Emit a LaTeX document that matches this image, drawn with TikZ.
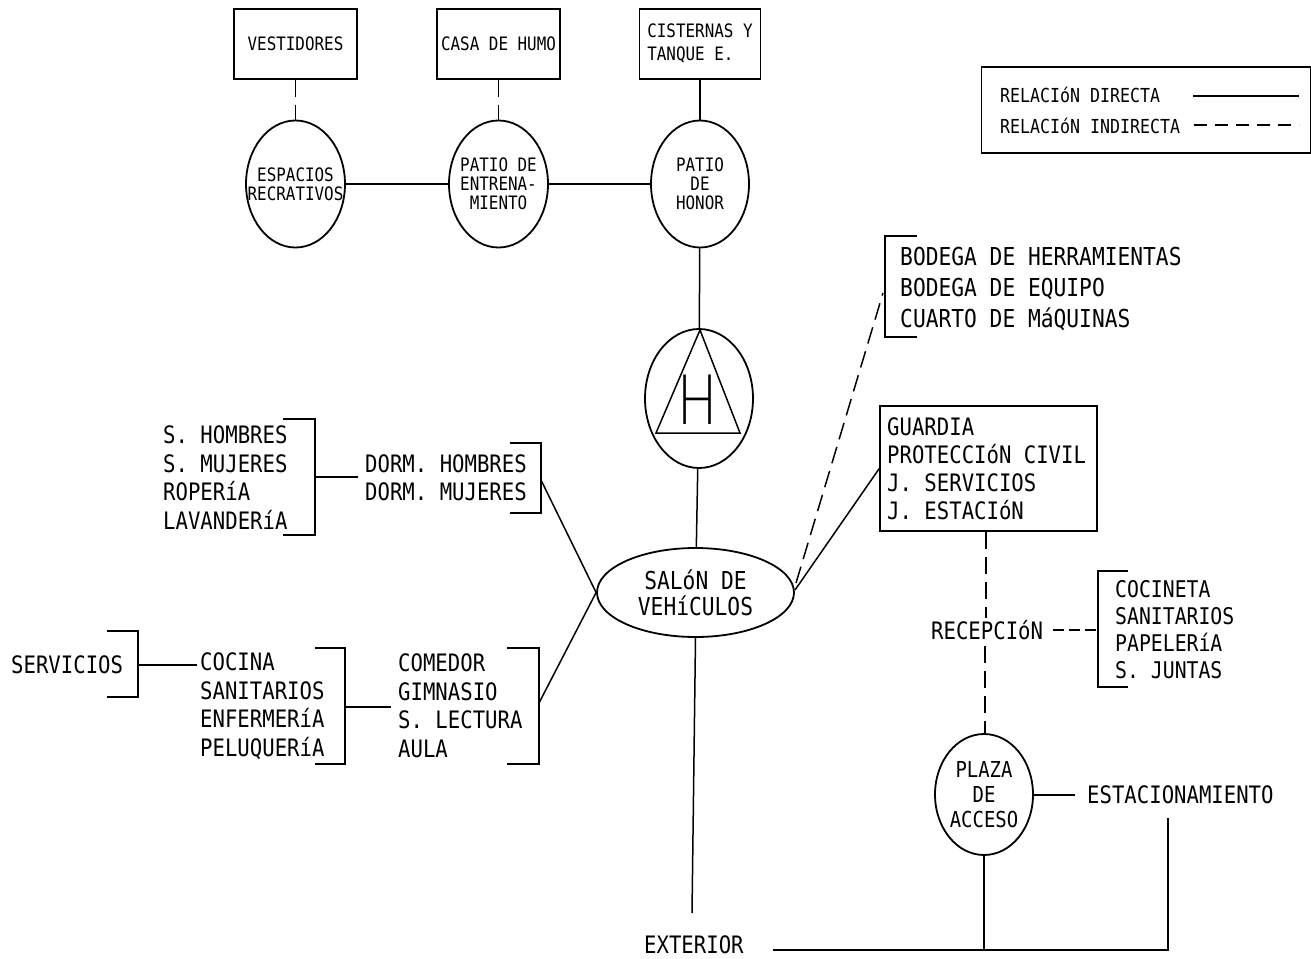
\documentclass[tikz,border=0pt]{standalone}
\usepackage{fontspec}
\usetikzlibrary{positioning,shapes.geometric}
\newfontfamily\plotfont[FakeStretch=0.86]{DejaVu Sans Mono}
\newfontfamily\helifont[FakeStretch=0.72]{Lato Light}
\tikzset{
  direct/.style={line width=1.5pt},
  indirect/.style={line width=1.5pt, dash pattern=on 17pt off 8pt},
  zone/.style={draw, line width=1.8pt, ellipse, inner sep=0pt},
  room/.style={draw, line width=1.5pt, rectangle, inner sep=0pt, align=left},
  smalltext/.style={font=\plotfont\fontsize{18.5}{19}\selectfont, align=center, inner sep=0pt},
  boxtext/.style={font=\plotfont\fontsize{18.5}{23}\selectfont, align=left, inner sep=0pt},
  legendtext/.style={font=\plotfont\fontsize{19.3}{24}\selectfont, anchor=west, inner sep=0pt},
  listtext/.style={font=\plotfont\fontsize{24}{28.5}\selectfont, align=left, anchor=west, inner sep=0pt}
}
\begin{document}
\begin{tikzpicture}[x=1pt, y=-1pt]
\useasboundingbox (0,0) rectangle (1311,958);
% upper row
\node[zone, minimum width=99pt, minimum height=127pt] (espacios) at (295.5,184) {};
\node[zone, minimum width=99pt, minimum height=127pt] (entrena) at (498.5,184) {};
\node[zone, minimum width=98pt, minimum height=127pt] (honor) at (700,184) {};
\node[smalltext] at (espacios) {ESPACIOS\\RECRATIVOS};
\node[smalltext] at (entrena) {PATIO DE\\ENTRENA-\\MIENTO};
\node[smalltext] at (honor) {PATIO\\DE\\HONOR};
\node[room, boxtext, minimum width=123pt, minimum height=70pt, above=40pt of espacios] (vestidores) {VESTIDORES};
\node[room, boxtext, minimum width=123pt, minimum height=70pt, above=40pt of entrena] (humo) {CASA DE HUMO};
\node[room, boxtext, minimum width=121pt, minimum height=70pt, above=40pt of honor] (cisternas) {CISTERNAS Y\\TANQUE E.};
\draw[indirect] (vestidores) -- (espacios);
\draw[indirect] (humo) -- (entrena);
\draw[direct] (cisternas) -- (honor);
\draw[direct] (espacios) -- (entrena);
\draw[direct] (entrena) -- (honor);
% legend
\node[room, minimum width=329pt, minimum height=86pt] (legend) at (1146,110) {};
\node[legendtext] (ldirect) at (1000,95) {RELACIóN DIRECTA};
\node[legendtext] (lindirect) at (1000,126) {RELACIóN INDIRECTA};
\coordinate (ldirectstart) at (1193,96);
\coordinate (ldirectend) at (1299,96);
\coordinate (lindirectstart) at (1194,125);
\coordinate (lindirectend) at (1299,125);
\draw[direct] (ldirectstart) -- (ldirectend);
\draw[line width=1.5pt, dash pattern=on 13pt off 8pt] (lindirectstart) -- (lindirectend);
% heliport
\node[zone, minimum width=108pt, minimum height=139pt] (helipad) at (699,398.5) {};
\coordinate (apex) at (700,330);
\coordinate (baseleft) at (656,433);
\coordinate (baseright) at (740,433);
\draw[direct] (apex) -- (baseleft) -- (baseright) -- cycle;
\node[font=\helifont\fontsize{70}{70}\selectfont, inner sep=0pt] (hletter) at (698,400) {H};
\node[zone, minimum width=197pt, minimum height=89pt] (salon) at (695.5,592.5) {};
\node[font=\plotfont\fontsize{24.7}{26}\selectfont, align=center, inner sep=0pt] at (salon) {SALóN DE\\VEHíCULOS};
\coordinate (salonend) at (692,913);
\draw[direct] (honor) -- (helipad);
\draw[direct] (helipad) -- (salon);
\draw[direct] (salon.south) -- (salonend);
% left lists
\node[listtext] (banos) at (163,477.5) {S. HOMBRES\\S. MUJERES\\ROPERíA\\LAVANDERíA};
\draw[direct] (283,419) -- (315,419) -- (315,535) -- (283,535);
\coordinate (banosr) at (315,477);
\node[listtext, font=\plotfont\fontsize{24}{27.5}\selectfont] (dorm) at (365,478) {DORM. HOMBRES\\DORM. MUJERES};
\draw[direct] (510,443) -- (541,443) -- (541,513) -- (510,513);
\coordinate (dormr) at (541,480);
\draw[direct] (banosr) -- ([xshift=-7pt]dorm.west |- banosr);
\draw[direct] (dormr) -- (salon.west);
\node[listtext] (servicios) at (11,665) {SERVICIOS};
\draw[direct] (107,631) -- (138,631) -- (138,697) -- (107,697);
\coordinate (serviciosr) at (138,665);
\node[listtext] (cocina) at (200,706) {COCINA\\SANITARIOS\\ENFERMERíA\\PELUQUERíA};
\draw[direct] (315,648) -- (345,648) -- (345,764) -- (315,764);
\coordinate (cocinar) at (345,707);
\node[listtext] (comedor) at (398,706) {COMEDOR\\GIMNASIO\\S. LECTURA\\AULA};
\draw[direct] (507,648) -- (539,648) -- (539,764) -- (507,764);
\coordinate (comedorr) at (539,703);
\draw[direct] (serviciosr) -- ([xshift=-3pt]cocina.west |- serviciosr);
\draw[direct] (cocinar) -- ([xshift=-7pt]comedor.west |- cocinar);
\draw[direct] (comedorr) -- (salon.west);
% right lists
\node[listtext, font=\plotfont\fontsize{24.7}{31}\selectfont] (bodega) at (900,289) {BODEGA DE HERRAMIENTAS\\BODEGA DE EQUIPO\\CUARTO DE MáQUINAS};
\draw[direct] (917,236) -- (885,236) -- (885,337) -- (917,337);
\coordinate (bodegal) at (883,293);
\coordinate (salondash) at (796,583);
\coordinate (salonsolid) at (795,590);
\node[room, minimum width=217pt, minimum height=125pt] (guardia) at (988.5,468.5) {};
\node[listtext, font=\plotfont\fontsize{24}{28}\selectfont] (guardiatext) at (887,469) {GUARDIA\\PROTECCIóN CIVIL\\J. SERVICIOS\\J. ESTACIóN};
\draw[indirect] (salondash) -- (bodegal);
\draw[direct] (salonsolid) -- (guardia.west);
\node[listtext] (recepcion) at (931,630) {RECEPCIóN};
\node[listtext, font=\plotfont\fontsize{23}{27}\selectfont] (cocineta) at (1115,630) {COCINETA\\SANITARIOS\\PAPELERíA\\S. JUNTAS};
\draw[direct] (1128,571) -- (1098,571) -- (1098,687) -- (1128,687);
\coordinate (cocinetal) at (1098,630);
\draw[line width=1.5pt, dash pattern=on 11pt off 5pt] ([xshift=10pt]recepcion.east) -- (cocinetal);
\node[zone, minimum width=98pt, minimum height=121pt] (plaza) at (984,794.5) {};
\node[font=\plotfont\fontsize{22}{25}\selectfont, align=center, inner sep=0pt] at (plaza) {PLAZA\\DE\\ACCESO};
\coordinate (recepabove) at (986,618);
\coordinate (recepbelow) at (985,646);
\draw[indirect] (guardia.south -| recepabove) -- (recepabove);
\draw[indirect] (recepbelow) -- (plaza.north -| recepbelow);
\node[listtext, font=\plotfont\fontsize{24}{28}\selectfont] (estacionamiento) at (1087,795) {ESTACIONAMIENTO};
\draw[direct] (plaza.east |- estacionamiento) -- ([xshift=-12pt]estacionamiento.west);
% bottom
\node[listtext, font=\plotfont\fontsize{24}{28}\selectfont] (exterior) at (644,945) {EXTERIOR};
\coordinate (estend) at (1168,818);
\coordinate (corner) at (1168,950);
\coordinate (exteriorr) at (773,950);
\draw[direct] (exteriorr) -- (corner) -- (estend);
\draw[direct] (plaza.south) -- (plaza.south |- corner);
\end{tikzpicture}
\end{document}
